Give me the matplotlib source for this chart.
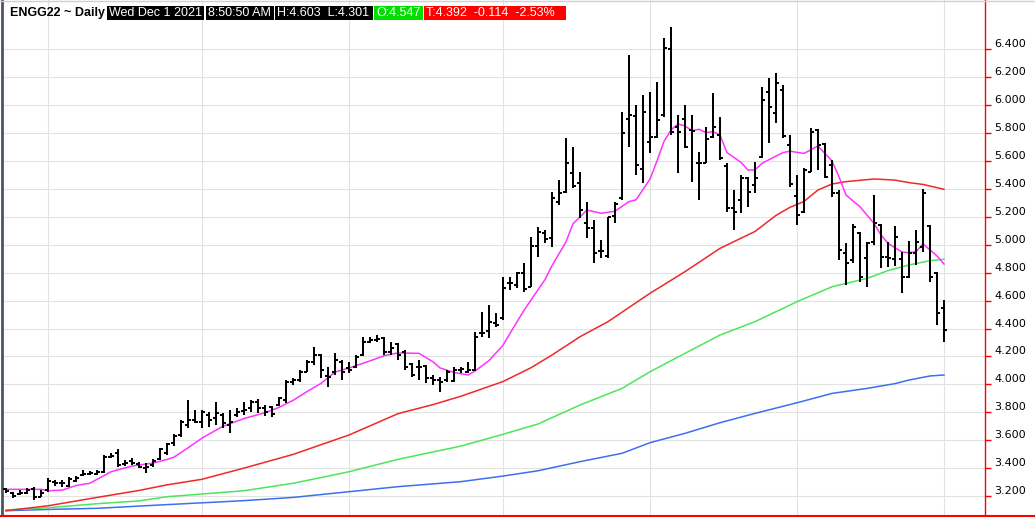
"""ENGG22 daily OHLC bars with moving averages, trading-terminal look."""

import matplotlib

matplotlib.use("Agg")
import matplotlib.pyplot as plt
from matplotlib.collections import LineCollection
from matplotlib.lines import Line2D
from matplotlib.patches import Rectangle
from matplotlib.transforms import offset_copy

# --- OHLC, one value per trading day (May 21 .. Dec 1 2021) ---
opens = [3.25, 3.225, 3.215, 3.225, 3.25, 3.195, 3.24, 3.30, 3.29, 3.27,
         3.31, 3.35, 3.36, 3.36, 3.37, 3.48, 3.51, 3.43, 3.45, 3.43,
         3.40, 3.423, 3.463, 3.506, 3.578, 3.637, 3.709, 3.745, 3.733, 3.78,
         3.757, 3.78, 3.709, 3.78, 3.812, 3.829, 3.876, 3.829, 3.84, 3.852,
         3.888, 4.019, 4.031, 4.091, 4.163, 4.21, 4.06, 4.091, 4.163, 4.115,
         4.127, 4.21, 4.306, 4.318, 4.33, 4.234, 4.289, 4.234, 4.145, 4.126,
         4.131, 4.043, 4.031, 4.031, 4.026, 4.102, 4.09, 4.102, 4.365, 4.38,
         4.437, 4.473, 4.723, 4.711, 4.80, 4.70, 4.99, 5.082, 5.046, 5.309,
         5.38, 5.512, 5.445, 5.153, 5.118, 4.957, 4.92, 5.206, 5.333, 5.898,
         5.922, 5.540, 5.738, 5.77, 5.929, 6.40, 5.846, 5.898, 5.82, 5.583,
         5.588, 5.774, 5.786, 5.564, 5.26, 5.32, 5.476, 5.428, 5.631, 6.097,
         5.942, 6.108, 5.715, 5.349, 5.237, 5.523, 5.822, 5.721, 5.571, 5.373,
         4.938, 4.89, 5.081, 4.902, 5.022, 5.141, 4.914, 4.895, 4.896, 4.772,
         4.943, 4.987, 5.135, 4.80, 4.547]
highs = [3.255, 3.231, 3.243, 3.255, 3.262, 3.243, 3.326, 3.314, 3.314, 3.334,
         3.343, 3.386, 3.381, 3.386, 3.494, 3.505, 3.534, 3.458, 3.470, 3.446,
         3.439, 3.463, 3.542, 3.578, 3.642, 3.745, 3.888, 3.817, 3.817, 3.805,
         3.876, 3.797, 3.817, 3.829, 3.876, 3.888, 3.893, 3.852, 3.845, 3.912,
         4.031, 4.043, 4.103, 4.175, 4.270, 4.215, 4.127, 4.222, 4.175, 4.163,
         4.210, 4.342, 4.342, 4.354, 4.342, 4.30, 4.294, 4.246, 4.150, 4.174,
         4.138, 4.067, 4.055, 4.102, 4.126, 4.126, 4.162, 4.377, 4.520, 4.568,
         4.508, 4.771, 4.771, 4.807, 4.867, 5.058, 5.130, 5.106, 5.380, 5.464,
         5.762, 5.703, 5.524, 5.309, 5.177, 5.034, 5.201, 5.309, 5.953, 6.359,
         6.001, 6.073, 6.097, 6.168, 6.479, 6.562, 5.929, 6.001, 5.929, 5.667,
         5.846, 6.085, 5.918, 5.583, 5.392, 5.500, 5.488, 5.595, 6.132, 6.192,
         6.228, 6.144, 5.786, 5.499, 5.547, 5.834, 5.826, 5.726, 5.607, 5.392,
         5.014, 5.148, 5.093, 5.022, 5.356, 5.148, 5.022, 5.135, 4.951, 5.030,
         5.106, 5.397, 5.142, 4.807, 4.603]
lows = [3.219, 3.183, 3.207, 3.214, 3.171, 3.19, 3.231, 3.271, 3.267, 3.267,
        3.302, 3.343, 3.350, 3.350, 3.362, 3.470, 3.410, 3.415, 3.423, 3.399,
        3.363, 3.411, 3.458, 3.494, 3.559, 3.626, 3.685, 3.721, 3.685, 3.697,
        3.709, 3.685, 3.649, 3.769, 3.781, 3.805, 3.793, 3.77, 3.769, 3.845,
        3.864, 3.995, 4.019, 4.085, 4.139, 4.043, 3.983, 4.067, 4.031, 4.079,
        4.120, 4.205, 4.294, 4.306, 4.210, 4.21, 4.175, 4.102, 4.055, 4.031,
        4.007, 3.995, 3.947, 4.019, 4.02, 4.079, 4.079, 4.095, 4.341, 4.329,
        4.413, 4.461, 4.676, 4.687, 4.664, 4.70, 4.915, 5.010, 4.986, 5.285,
        5.368, 5.404, 5.189, 5.046, 4.867, 4.903, 4.903, 5.153, 5.321, 5.703,
        5.500, 5.440, 5.655, 5.762, 5.918, 5.786, 5.512, 5.691, 5.452, 5.321,
        5.583, 5.762, 5.607, 5.237, 5.106, 5.225, 5.273, 5.368, 5.619, 5.727,
        5.870, 5.762, 5.416, 5.141, 5.225, 5.523, 5.535, 5.475, 5.344, 4.890,
        4.711, 4.866, 4.735, 4.699, 4.998, 4.831, 4.843, 4.848, 4.657, 4.760,
        4.855, 4.951, 4.736, 4.425, 4.301]
closes = [3.235, 3.20, 3.225, 3.24, 3.19, 3.225, 3.31, 3.29, 3.295, 3.32,
          3.33, 3.36, 3.365, 3.37, 3.48, 3.49, 3.42, 3.44, 3.44, 3.41,
          3.41, 3.454, 3.535, 3.573, 3.63, 3.733, 3.745, 3.733, 3.805, 3.745,
          3.793, 3.721, 3.733, 3.805, 3.817, 3.876, 3.829, 3.80, 3.79, 3.90,
          4.019, 4.031, 4.091, 4.163, 4.21, 4.103, 4.05, 4.175, 4.091, 4.103,
          4.198, 4.306, 4.318, 4.323, 4.234, 4.258, 4.21, 4.126, 4.067, 4.126,
          4.043, 4.031, 4.019, 4.09, 4.102, 4.107, 4.10, 4.336, 4.37, 4.45,
          4.425, 4.687, 4.723, 4.795, 4.68, 4.991, 5.09, 5.039, 5.333, 5.373,
          5.588, 5.42, 5.249, 5.118, 4.943, 4.957, 5.196, 5.29, 5.803, 5.929,
          5.571, 5.953, 5.77, 5.894, 6.407, 5.81, 5.81, 5.703, 5.815, 5.583,
          5.755, 5.841, 5.619, 5.261, 5.237, 5.476, 5.38, 5.476, 6.037, 5.984,
          6.156, 5.78, 5.435, 5.213, 5.535, 5.810, 5.714, 5.487, 5.373, 4.962,
          4.871, 5.129, 4.771, 5.014, 5.153, 4.914, 4.902, 5.058, 4.772, 4.943,
          5.022, 5.369, 4.767, 4.514, 4.392]

# --- moving averages (bar index, value) ---
ma_fast_idx = [0, 5, 6, 8, 10, 12, 15, 18, 21, 23, 24, 26, 28, 31, 34, 37, 39,
               41, 43, 45, 47, 49, 52, 54, 56, 59, 61, 62, 64, 66, 67, 69, 71,
               72, 74, 75, 77, 78, 80, 81, 83, 85, 87, 89, 90, 92, 93, 94, 95,
               96, 97, 98, 99, 100, 101, 102, 103, 105, 106, 107, 108, 110,
               111, 112, 114, 116, 118, 119, 120, 122, 124, 125, 126, 128,
               129, 130, 131, 133, 134]
ma_fast_val = [3.248, 3.248, 3.238, 3.242, 3.275, 3.292, 3.374, 3.415, 3.436,
               3.462, 3.478, 3.545, 3.615, 3.70, 3.755, 3.797, 3.835, 3.885,
               3.948, 4.007, 4.088, 4.117, 4.168, 4.205, 4.225, 4.222, 4.162,
               4.118, 4.085, 4.067, 4.095, 4.170, 4.280, 4.365, 4.53, 4.604,
               4.75, 4.85, 5.02, 5.15, 5.249, 5.225, 5.24, 5.309, 5.321, 5.47,
               5.60, 5.74, 5.822, 5.865, 5.851, 5.817, 5.827, 5.803, 5.81,
               5.786, 5.66, 5.59, 5.535, 5.535, 5.583, 5.635, 5.66, 5.67,
               5.654, 5.707, 5.60, 5.487, 5.356, 5.272, 5.153, 5.07, 5.01,
               4.948, 4.943, 4.95, 5.006, 4.92, 4.862]
ma_mid_idx = [0, 6, 13, 19, 23, 28, 34, 41, 49, 56, 61, 65, 71, 75, 78, 82, 86,
              92, 97, 102, 107, 110, 112, 114, 116, 118, 120, 124, 127, 129,
              131, 134]
ma_mid_val = [3.095, 3.13, 3.19, 3.24, 3.28, 3.32, 3.40, 3.498, 3.637, 3.79,
              3.855, 3.915, 4.02, 4.119, 4.21, 4.341, 4.449, 4.652, 4.807,
              4.974, 5.095, 5.21, 5.268, 5.31, 5.392, 5.435, 5.452, 5.471,
              5.463, 5.445, 5.432, 5.397]
ma_slow_idx = [0, 6, 13, 19, 23, 34, 41, 49, 56, 65, 71, 76, 82, 88, 92, 97,
               102, 107, 111, 113, 118, 123, 126, 129, 132, 134]
ma_slow_val = [3.10, 3.116, 3.145, 3.165, 3.195, 3.238, 3.291, 3.374, 3.463,
               3.558, 3.642, 3.716, 3.852, 3.971, 4.09, 4.222, 4.353, 4.449,
               4.544, 4.592, 4.699, 4.759, 4.815, 4.855, 4.886, 4.896]
ma_long_idx = [0, 6, 13, 19, 34, 41, 49, 56, 65, 71, 76, 82, 88, 92, 97, 102,
               107, 113, 118, 123, 127, 129, 132, 134]
ma_long_val = [3.095, 3.104, 3.112, 3.128, 3.167, 3.19, 3.231, 3.267, 3.303,
               3.343, 3.381, 3.446, 3.506, 3.582, 3.649, 3.725, 3.792, 3.868,
               3.935, 3.971, 4.005, 4.031, 4.06, 4.067]

month_start_bars = [6, 28, 49, 71, 92, 113, 134]
price_ticks = [3.2, 3.4, 3.6, 3.8, 4.0, 4.2, 4.4, 4.6, 4.8, 5.0, 5.2, 5.4,
               5.6, 5.8, 6.0, 6.2, 6.4]

header_title = "ENGG22 ~ Daily"
header_boxes = [
    ("Wed Dec 1 2021", "#000000"),
    ("8:50:50 AM", "#000000"),
    ("H:4.603  L:4.301", "#000000"),
    ("O:4.547", "#00e000"),
    ("T:4.392  -0.114  -2.53%", "#ff0000"),
]


def main() -> None:
    W, H = 1035, 517
    fig = plt.figure(figsize=(W / 100, H / 100), dpi=100)
    fig.patch.set_facecolor("white")

    ax = fig.add_axes([2 / W, 1 / H, 983 / W, 516 / H])
    ax.set_xlim(-0.57, 139.86)
    ax.set_ylim(3.057, 6.753)

    # grid
    ax.set_xticks(month_start_bars)
    ax.set_yticks(price_ticks)
    ax.grid(True, color="#e2e2e2", lw=0.8, zorder=0)
    ax.set_axisbelow(True)
    ax.tick_params(axis="x", length=0, labelbottom=False)
    ax.tick_params(axis="y", left=False, right=True, labelleft=False,
                   labelright=False, length=4, width=1, color="red")

    for side in ("top", "bottom"):
        ax.spines[side].set_visible(False)
    ax.spines["right"].set_color("red")
    ax.spines["right"].set_linewidth(1.0)
    ax.spines["left"].set_color("#4a5560")
    ax.spines["left"].set_linewidth(2.0)

    # price labels sit a bit above their tick
    trans = offset_copy(ax.get_yaxis_transform(), fig=fig, x=9, y=5,
                        units="dots")
    for v in price_ticks:
        ax.text(1.0, v, f"{v:.3f}", transform=trans, ha="left", va="center",
                fontsize=8, color="black", family="DejaVu Sans",
                clip_on=False)

    # moving averages
    ax.plot(ma_long_idx, ma_long_val, color="#3d6ff0", lw=1.1, zorder=2)
    ax.plot(ma_slow_idx, ma_slow_val, color="#4ce65a", lw=1.1, zorder=2)
    ax.plot(ma_mid_idx, ma_mid_val, color="#f02828", lw=1.1, zorder=2)
    ax.plot(ma_fast_idx, ma_fast_val, color="#ff33ff", lw=1.1, zorder=2)

    # OHLC bars, drawn crisp like the terminal does
    n = len(closes)
    tick = 0.4
    segs = []
    for i in range(n):
        segs.append([(i, lows[i]), (i, highs[i])])
        segs.append([(i - tick, opens[i]), (i, opens[i])])
        segs.append([(i, closes[i]), (i + tick, closes[i])])
    ax.add_collection(LineCollection(segs, colors="black", linewidths=1.2,
                                     capstyle="butt", antialiaseds=False,
                                     zorder=3))

    # frame lines outside the axes
    fig.add_artist(Line2D([0, 1], [1 / H, 1 / H], color="red", lw=1.5))
    fig.add_artist(Line2D([0, 1], [1 - 0.5 / H, 1 - 0.5 / H],
                          color="#d0d0d0", lw=1.0))

    # header strip
    fig.text(10 / W, 1 - 13 / H, header_title, ha="left", va="center",
             fontsize=9, fontweight="bold", family="Liberation Sans",
             color="black")
    box_edges = [(107, 204), (206, 274), (275, 373), (374, 423), (424, 566)]
    for (label, colour), (x0, x1) in zip(header_boxes, box_edges):
        fig.add_artist(Rectangle((x0 / W, 1 - 20 / H), (x1 - x0) / W, 14 / H,
                                 transform=fig.transFigure, facecolor=colour,
                                 edgecolor="none", zorder=5))
        fig.text((x0 + 2) / W, 1 - 13 / H, label, ha="left", va="center",
                 fontsize=9, family="Liberation Sans", color="white",
                 zorder=6)

    fig.savefig("out.png", dpi=100, facecolor="white")
    plt.close(fig)


if __name__ == "__main__":
    main()
